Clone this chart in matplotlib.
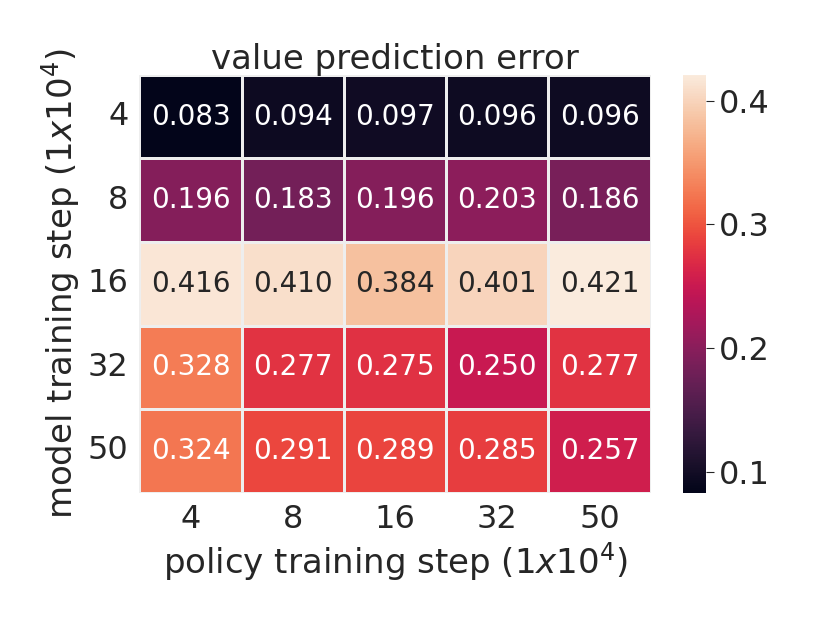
import numpy as np
import matplotlib
matplotlib.use("Agg")
import matplotlib.pyplot as plt
import seaborn as sns

# data ------------------------------------------------------------------------#
model_steps = ["4", "8", "16", "32", "50"]
policy_steps = ["4", "8", "16", "32", "50"]
errors = np.array([
    [0.083, 0.094, 0.097, 0.096, 0.096],
    [0.196, 0.183, 0.196, 0.203, 0.186],
    [0.416, 0.410, 0.384, 0.401, 0.421],
    [0.328, 0.277, 0.275, 0.250, 0.277],
    [0.324, 0.291, 0.289, 0.285, 0.257],
])

sns.set_style("white")
plt.rcParams["font.family"] = ["DejaVu Sans"]
dark = "#262626"

fig = plt.figure(figsize=(8.3, 6.23), dpi=100)
ax = fig.add_axes([0.168, 0.209, 0.616, 0.671])
cax = fig.add_axes([0.823, 0.209, 0.027, 0.671])

sns.heatmap(errors, ax=ax, cbar_ax=cax, cmap="rocket", annot=True, fmt=".3f",
            linewidths=0.8, linecolor="#eeeeee",
            xticklabels=policy_steps, yticklabels=model_steps,
            annot_kws={"fontsize": 20})

ax.set_title("value prediction error", fontsize=24.5, color=dark, pad=4)
ax.set_xlabel("policy training step (1$x$10$^4$)", fontsize=24.5, color=dark)
ax.set_ylabel("model training step (1$x$10$^4$)", fontsize=24.5, color=dark)
ax.tick_params(axis="both", labelsize=23, length=0, pad=8, labelcolor=dark)
ax.tick_params(axis="y", rotation=0)
cax.tick_params(labelsize=23, labelcolor=dark, length=6, color=dark)
cax.set_yticks([0.1, 0.2, 0.3, 0.4])

fig.savefig("out.png", dpi=100)
